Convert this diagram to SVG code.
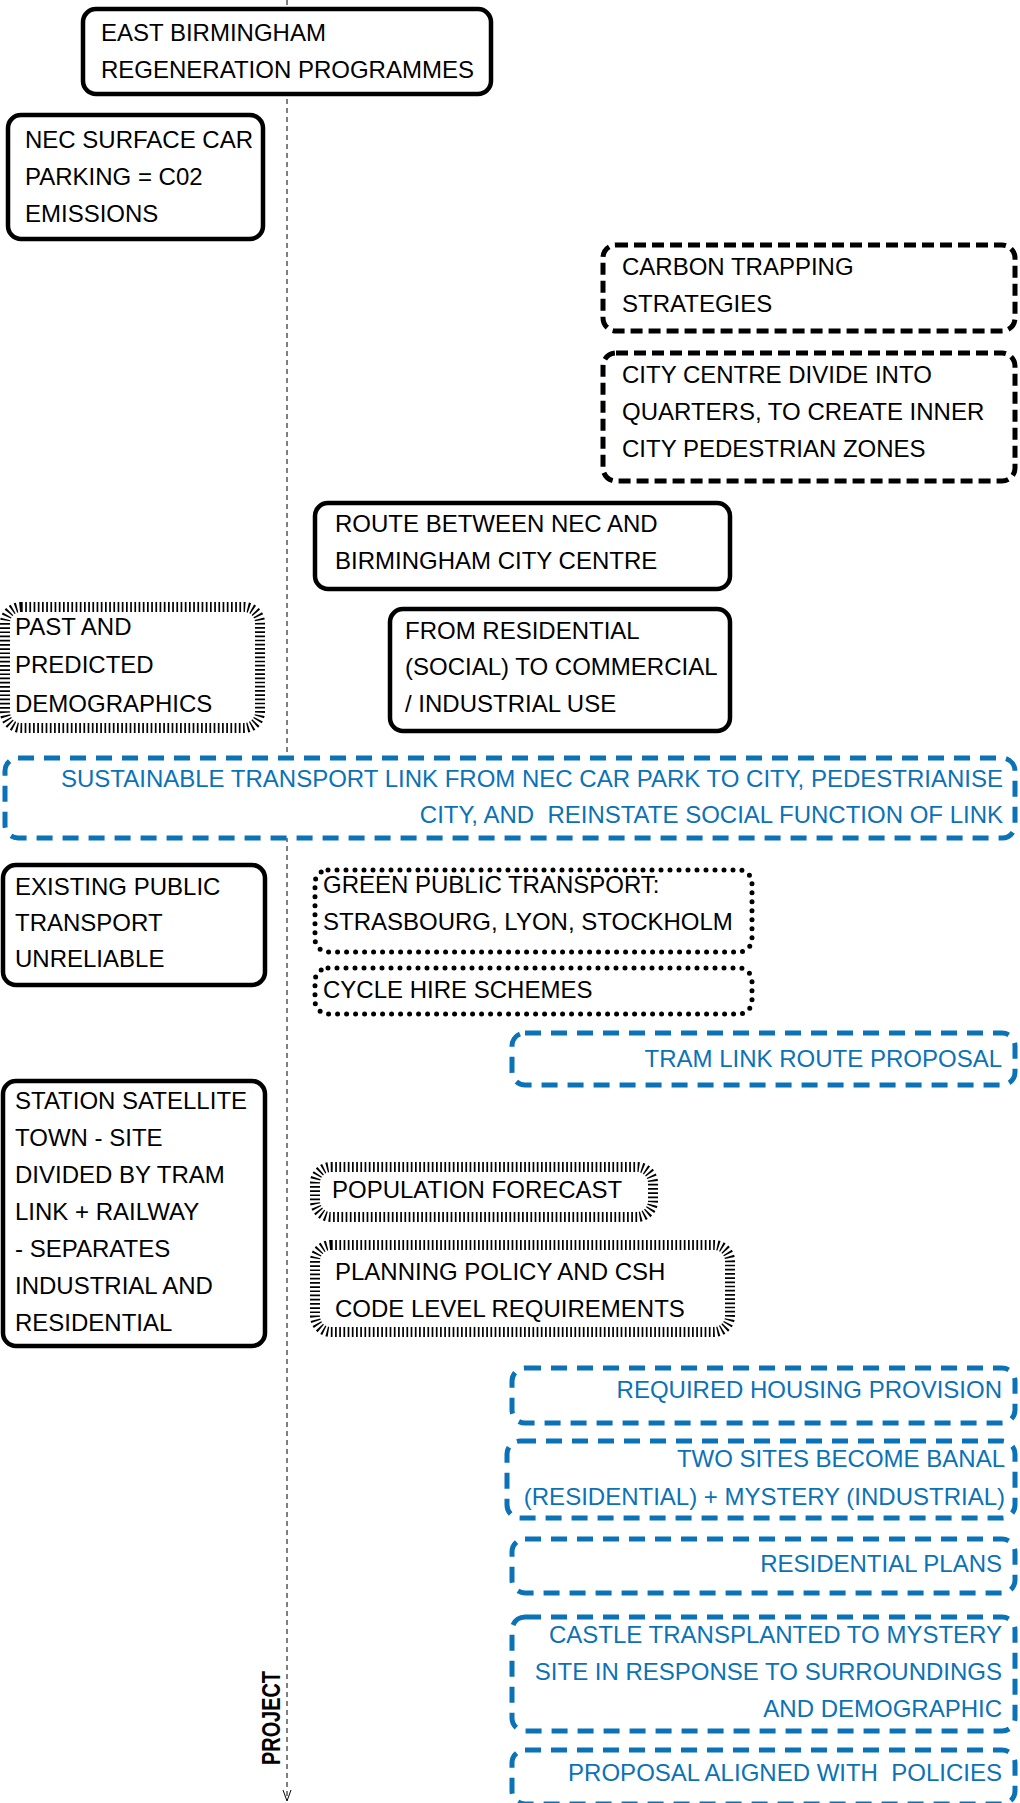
<svg xmlns="http://www.w3.org/2000/svg" width="1020" height="1803" viewBox="0 0 1020 1803">
  <style>
    text { font-family: "Liberation Sans", Arial, Helvetica, sans-serif; font-size: 24px; fill: #000; }
    .blue text, text.blue { fill: #0b72b6; text-anchor: end; }
    .pre { white-space: pre; }
    .solid { fill: #fff; stroke: #000; stroke-width: 4.5; }
    .dash { fill: #fff; stroke: #000; stroke-width: 5; stroke-dasharray: 12 6; }
    .dot { fill: #fff; stroke: #000; stroke-width: 5; stroke-dasharray: 0 9; stroke-linecap: round; }
    .hatch { fill: #fff; stroke: #000; stroke-width: 10; stroke-dasharray: 1.7 2.5; }
    .bdash { fill: #fff; stroke: #0b72b6; stroke-width: 5; stroke-dasharray: 16 10; }
    .axis { fill: none; stroke: #000; stroke-width: 1; }
  </style>

  <!-- project timeline axis -->
  <g id="connectors">
    <line class="axis" x1="287" y1="0" x2="287" y2="1800" stroke-dasharray="5 4"/>
    <polyline class="axis" points="283,1790 287,1801 291,1790"/>
    <text x="280" y="1718" transform="rotate(-90 280 1718)" text-anchor="middle" textLength="94" lengthAdjust="spacingAndGlyphs" style="font-weight:bold;font-size:26px">PROJECT</text>
  </g>

  <g id="east-birmingham">
    <rect class="solid" x="83" y="9" width="408" height="85" rx="13"/>
    <text x="101" y="41">EAST BIRMINGHAM</text>
    <text x="101" y="78">REGENERATION PROGRAMMES</text>
  </g>

  <g id="nec-parking">
    <rect class="solid" x="8" y="115" width="255" height="124" rx="13"/>
    <text x="25" y="148">NEC SURFACE CAR</text>
    <text x="25" y="185">PARKING = C02</text>
    <text x="25" y="222">EMISSIONS</text>
  </g>

  <g id="carbon-trapping">
    <rect class="dash" x="603" y="245" width="412" height="86" rx="13"/>
    <text x="622" y="275">CARBON TRAPPING</text>
    <text x="622" y="312">STRATEGIES</text>
  </g>

  <g id="city-quarters">
    <rect class="dash" x="603" y="353" width="412" height="128" rx="13"/>
    <text x="622" y="383">CITY CENTRE DIVIDE INTO</text>
    <text x="622" y="420">QUARTERS, TO CREATE INNER</text>
    <text x="622" y="457">CITY PEDESTRIAN ZONES</text>
  </g>

  <g id="route">
    <rect class="solid" x="315" y="503" width="415" height="86" rx="13"/>
    <text x="335" y="532">ROUTE BETWEEN NEC AND</text>
    <text x="335" y="569">BIRMINGHAM CITY CENTRE</text>
  </g>

  <g id="residential-to-commercial">
    <rect class="solid" x="390" y="609" width="340" height="122" rx="13"/>
    <text x="405" y="639">FROM RESIDENTIAL</text>
    <text x="405" y="675">(SOCIAL) TO COMMERCIAL</text>
    <text x="405" y="712">/ INDUSTRIAL USE</text>
  </g>

  <g id="demographics">
    <rect class="hatch" x="5" y="607" width="255" height="121" rx="16"/>
    <text x="15" y="635">PAST AND</text>
    <text x="15" y="673">PREDICTED</text>
    <text x="15" y="712">DEMOGRAPHICS</text>
  </g>

  <g id="sustainable-link" class="blue">
    <rect class="bdash" x="5" y="758" width="1010" height="80" rx="13"/>
    <text x="1003" y="787">SUSTAINABLE TRANSPORT LINK FROM NEC CAR PARK TO CITY, PEDESTRIANISE</text>
    <text class="pre" x="1003" y="823">CITY, AND  REINSTATE SOCIAL FUNCTION OF LINK</text>
  </g>

  <g id="existing-transport">
    <rect class="solid" x="3" y="865" width="262" height="120" rx="13"/>
    <text x="15" y="895">EXISTING PUBLIC</text>
    <text x="15" y="931">TRANSPORT</text>
    <text x="15" y="967">UNRELIABLE</text>
  </g>

  <g id="green-transport">
    <rect class="dot" x="315" y="870" width="437" height="82" rx="13"/>
    <text x="323" y="893">GREEN PUBLIC TRANSPORT:</text>
    <text x="323" y="930">STRASBOURG, LYON, STOCKHOLM</text>
  </g>

  <g id="cycle-hire">
    <rect class="dot" x="315" y="968" width="437" height="46" rx="13"/>
    <text x="323" y="998">CYCLE HIRE SCHEMES</text>
  </g>

  <g id="tram-route" class="blue">
    <rect class="bdash" x="512" y="1033" width="503" height="52" rx="13"/>
    <text x="1002" y="1067">TRAM LINK ROUTE PROPOSAL</text>
  </g>

  <g id="station-town">
    <rect class="solid" x="3" y="1081" width="262" height="265" rx="13"/>
    <text x="15" y="1109">STATION SATELLITE</text>
    <text x="15" y="1146">TOWN - SITE</text>
    <text x="15" y="1183">DIVIDED BY TRAM</text>
    <text x="15" y="1220">LINK + RAILWAY</text>
    <text x="15" y="1257">- SEPARATES</text>
    <text x="15" y="1294">INDUSTRIAL AND</text>
    <text x="15" y="1331">RESIDENTIAL</text>
  </g>

  <g id="population-forecast">
    <rect class="hatch" x="315" y="1167" width="338" height="50" rx="16"/>
    <text x="332" y="1198">POPULATION FORECAST</text>
  </g>

  <g id="planning-policy">
    <rect class="hatch" x="315" y="1245" width="415" height="87" rx="16"/>
    <text x="335" y="1280">PLANNING POLICY AND CSH</text>
    <text x="335" y="1317">CODE LEVEL REQUIREMENTS</text>
  </g>

  <g id="housing-provision" class="blue">
    <rect class="bdash" x="512" y="1368" width="503" height="55" rx="13"/>
    <text x="1002" y="1398">REQUIRED HOUSING PROVISION</text>
  </g>

  <g id="two-sites" class="blue">
    <rect class="bdash" x="507" y="1441" width="508" height="77" rx="13"/>
    <text x="1005" y="1467">TWO SITES BECOME BANAL</text>
    <text x="1005" y="1505">(RESIDENTIAL) + MYSTERY (INDUSTRIAL)</text>
  </g>

  <g id="residential-plans" class="blue">
    <rect class="bdash" x="512" y="1539" width="503" height="54" rx="13"/>
    <text x="1002" y="1572">RESIDENTIAL PLANS</text>
  </g>

  <g id="castle" class="blue">
    <rect class="bdash" x="512" y="1617" width="503" height="114" rx="13"/>
    <text x="1002" y="1643">CASTLE TRANSPLANTED TO MYSTERY</text>
    <text x="1002" y="1680">SITE IN RESPONSE TO SURROUNDINGS</text>
    <text x="1002" y="1717">AND DEMOGRAPHIC</text>
  </g>

  <g id="proposal-policies" class="blue">
    <rect class="bdash" x="512" y="1750" width="503" height="54" rx="13"/>
    <text class="pre" x="1002" y="1781">PROPOSAL ALIGNED WITH  POLICIES</text>
  </g>
</svg>
